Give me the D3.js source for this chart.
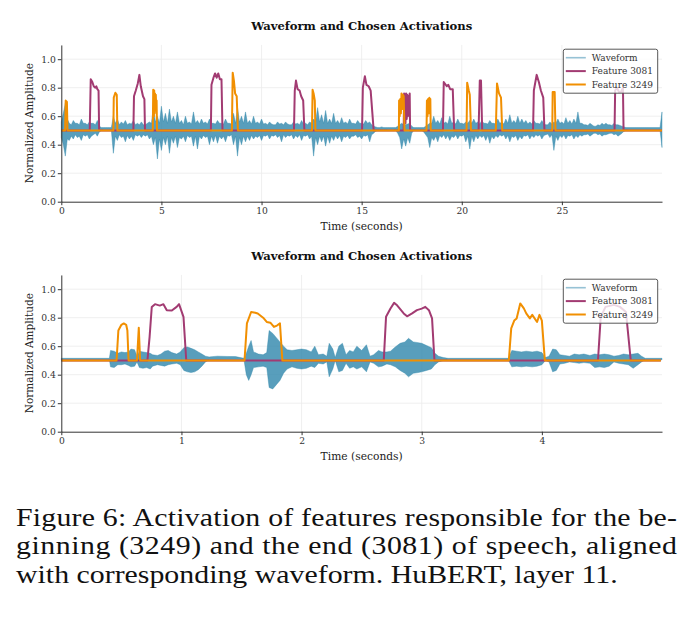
<!DOCTYPE html>
<html>
<head>
<meta charset="utf-8">
<script src="https://cdn.jsdelivr.net/npm/d3@7"></script>
<style>
  body { margin: 0; background: #fff; }
  text { font-family: "DejaVu Serif", serif; }
</style>
</head>
<body>
<svg id="fig" width="692" height="620"></svg>
<script>
// ---- data ----
var titleText = "Waveform and Chosen Activations";
var legendLabels = ["Waveform", "Feature 3081", "Feature 3249"];
var yTicks = [0.0, 0.2, 0.4, 0.6, 0.8, 1.0];
var xTicksTop = [0, 5, 10, 15, 20, 25];
var xTicksBot = [0, 1, 2, 3, 4];

// top panel: waveform envelope sampled every 0.1 s (upper / lower), one row = 2 s
var waveTopStep = 0.1;
var waveTopHi = [
  .56,.62,.69,.58,.55,.54,.57,.55,.55,.54,.58,.55,.55,.54,.56,.55,.55,.54,.57,.53,
  .52,.52,.52,.52,.52,.52,.60,.55,.58,.54,.56,.545,.57,.54,.55,.545,.57,.54,.55,.54,
  .56,.54,.54,.55,.56,.55,.66,.56,.60,.55,.67,.56,.62,.55,.65,.56,.60,.55,.63,.55,
  .57,.54,.60,.55,.56,.545,.63,.55,.57,.545,.58,.55,.56,.545,.58,.55,.55,.545,.57,.55,
  .55,.545,.58,.55,.55,.545,.62,.55,.66,.56,.60,.55,.63,.55,.57,.545,.60,.55,.56,.545,
  .58,.545,.55,.54,.56,.545,.54,.54,.56,.545,.55,.54,.56,.545,.54,.54,.56,.545,.55,.54,
  .57,.545,.55,.54,.56,.55,.58,.56,.66,.56,.61,.55,.64,.55,.58,.55,.62,.55,.57,.545,
  .59,.55,.56,.545,.58,.55,.55,.545,.57,.55,.55,.545,.57,.55,.56,.54,.53,.525,.52,.52,
  .525,.52,.52,.52,.52,.52,.52,.52,.53,.54,.55,.54,.54,.545,.55,.53,.52,.52,.52,.52,
  .52,.52,.53,.54,.55,.55,.60,.55,.57,.545,.59,.55,.56,.545,.60,.55,.56,.545,.58,.55,
  .55,.545,.56,.55,.57,.55,.58,.55,.56,.545,.57,.55,.55,.545,.57,.55,.55,.545,.58,.55,
  .56,.545,.58,.55,.61,.55,.57,.55,.60,.55,.58,.55,.57,.545,.56,.545,.57,.55,.55,.545,
  .57,.545,.54,.54,.56,.545,.56,.55,.58,.55,.56,.545,.59,.55,.57,.545,.58,.55,.63,.55,
  .55,.54,.54,.535,.55,.54,.53,.53,.54,.535,.55,.54,.55,.54,.54,.535,.55,.54,.54,.535,
  .53,.525,.52,.52,.52,.52,.52,.52,.52,.52,.52,.52,.52,.52,.52,.52,.52,.52,.52,.52,
  .63];
var waveTopLo = [
  .45,.40,.32,.44,.43,.46,.44,.47,.45,.46,.43,.47,.46,.47,.44,.46,.47,.48,.46,.49,
  .50,.505,.505,.505,.505,.50,.34,.46,.43,.47,.45,.46,.42,.465,.44,.46,.43,.47,.46,.47,
  .45,.47,.46,.47,.44,.46,.40,.45,.30,.44,.36,.45,.40,.46,.34,.45,.41,.46,.38,.45,
  .44,.46,.42,.465,.45,.46,.39,.46,.37,.46,.44,.465,.45,.46,.40,.46,.42,.465,.41,.46,
  .44,.46,.42,.465,.46,.47,.40,.46,.32,.45,.40,.46,.42,.46,.43,.465,.44,.46,.45,.465,
  .43,.465,.46,.47,.44,.465,.46,.47,.45,.465,.42,.47,.45,.465,.46,.47,.44,.465,.45,.47,
  .43,.465,.46,.47,.44,.46,.32,.45,.40,.46,.42,.46,.39,.46,.41,.46,.43,.465,.44,.465,
  .42,.46,.45,.465,.44,.46,.46,.47,.45,.46,.44,.465,.46,.47,.42,.47,.48,.495,.50,.505,
  .50,.505,.50,.505,.505,.505,.505,.50,.48,.45,.37,.44,.39,.45,.41,.48,.50,.505,.505,.505,
  .50,.49,.47,.45,.38,.45,.43,.46,.42,.465,.45,.47,.44,.465,.43,.46,.45,.47,.44,.465,
  .46,.47,.42,.46,.37,.46,.42,.465,.44,.465,.45,.465,.43,.465,.41,.46,.44,.465,.45,.47,
  .46,.47,.44,.465,.42,.46,.45,.465,.43,.46,.44,.465,.46,.47,.44,.465,.45,.47,.46,.47,
  .44,.465,.47,.475,.45,.47,.36,.46,.43,.465,.45,.47,.44,.465,.46,.47,.44,.465,.45,.47,
  .46,.47,.47,.475,.46,.47,.48,.48,.47,.475,.46,.47,.47,.475,.48,.48,.47,.475,.46,.47,
  .48,.495,.50,.505,.505,.505,.505,.505,.505,.505,.505,.505,.505,.505,.505,.505,.505,.505,.505,.505,
  .38];

// top panel activations [time, value]
var f3081Top = [
  [0,.5],[1.42,.5],[1.47,.86],[1.55,.84],[1.62,.81],[1.7,.80],[1.75,.81],[1.8,.79],[1.86,.78],[1.89,.5],
  [3.6,.5],[3.63,.74],[3.72,.78],[3.82,.83],[3.9,.89],[3.97,.81],[4.08,.74],[4.15,.72],[4.18,.5],
  [7.47,.5],[7.5,.82],[7.6,.87],[7.68,.9],[7.76,.87],[7.84,.9],[7.92,.86],[8.0,.86],[8.05,.5],
  [11.62,.5],[11.66,.78],[11.72,.85],[11.8,.79],[11.9,.78],[11.98,.74],[12.08,.71],[12.14,.5],
  [15.02,.5],[15.06,.80],[15.16,.88],[15.24,.82],[15.35,.81],[15.45,.78],[15.6,.5],
  [17.1,.5],[17.12,.76],[17.15,.6],[17.17,.74],[17.19,.55],[17.22,.76],[17.25,.58],[17.28,.75],
  [17.31,.6],[17.34,.74],[17.37,.62],[17.4,.76],[17.42,.5],
  [19.06,.5],[19.1,.84],[19.25,.81],[19.33,.82],[19.42,.79],[19.55,.79],[19.62,.5],
  [20.84,.5],[20.9,.85],[20.96,.85],[21.02,.5],
  [23.56,.5],[23.6,.78],[23.74,.89],[23.85,.84],[23.95,.78],[24.07,.73],[24.13,.5],
  [27.63,.5],[27.66,.78],[27.75,.80],[27.85,.77],[27.95,.77],[28.05,.80],[28.08,.5],
  [30,.5]];
var f3249Top = [
  [0,.5],[0.19,.5],[0.22,.71],[0.28,.70],[0.31,.5],
  [2.6,.5],[2.62,.73],[2.7,.765],[2.77,.75],[2.8,.5],
  [4.57,.5],[4.59,.785],[4.62,.6],[4.64,.78],[4.66,.62],[4.68,.76],[4.7,.64],[4.72,.75],[4.74,.66],[4.76,.71],[4.78,.5],
  [8.52,.5],[8.56,.905],[8.62,.85],[8.68,.76],[8.76,.74],[8.82,.5],
  [12.52,.5],[12.55,.785],[12.6,.76],[12.66,.71],[12.69,.5],
  [16.86,.5],[16.87,.71],[16.9,.6],[16.93,.72],[16.96,.62],[16.99,.76],[17.02,.65],[17.06,.75],[17.1,.74],[17.14,.5],
  [18.24,.5],[18.26,.71],[18.29,.6],[18.32,.72],[18.35,.62],[18.38,.73],[18.41,.65],[18.43,.72],[18.45,.5],
  [20.24,.5],[20.27,.835],[20.35,.78],[20.4,.75],[20.46,.5],
  [21.7,.5],[21.76,.83],[21.86,.76],[21.96,.73],[22.02,.5],
  [24.52,.5],[24.54,.77],[24.64,.77],[24.68,.5],
  [30,.5]];

// bottom panel: waveform envelope at irregular times
var waveBotT = [0,0.40,0.41,0.44,0.47,0.50,0.53,0.56,0.58,0.61,0.63,0.65,0.68,0.71,0.74,0.76,0.80,0.83,0.86,0.89,
  0.92,0.96,0.99,1.02,1.05,1.08,1.11,1.14,1.17,1.20,1.23,1.30,1.38,1.45,1.52,1.54,1.56,1.58,1.60,1.64,
  1.68,1.71,1.73,1.76,1.79,1.82,1.85,1.88,1.92,1.96,2.00,2.04,2.08,2.11,2.14,2.18,2.21,2.23,2.26,2.28,
  2.31,2.34,2.37,2.40,2.43,2.46,2.50,2.54,2.57,2.60,2.64,2.67,2.71,2.74,2.78,2.82,2.86,2.89,2.93,2.97,
  3.00,3.04,3.08,3.11,3.14,3.18,3.22,3.72,3.75,3.79,3.83,3.87,3.92,3.96,4.00,4.03,4.06,4.09,4.12,4.15,
  4.19,4.23,4.27,4.31,4.35,4.40,4.44,4.48,4.52,4.56,4.60,4.64,4.68,4.72,4.76,4.80,4.83,4.86,5.00];
var waveBotHi = [.515,.515,.57,.565,.55,.56,.555,.56,.58,.575,.53,.565,.56,.555,.55,.54,.535,.545,.565,.57,
  .555,.545,.56,.59,.595,.585,.575,.56,.545,.53,.525,.53,.528,.527,.515,.55,.60,.64,.56,.545,
  .54,.555,.71,.69,.66,.63,.60,.575,.57,.575,.58,.575,.56,.60,.54,.545,.53,.62,.58,.52,
  .60,.62,.54,.57,.56,.60,.57,.61,.53,.54,.57,.56,.56,.565,.595,.62,.63,.655,.63,.625,
  .62,.605,.59,.55,.53,.52,.515,.515,.57,.565,.56,.565,.56,.565,.555,.52,.53,.58,.575,.54,
  .535,.53,.545,.54,.545,.535,.545,.54,.545,.54,.53,.535,.545,.54,.545,.55,.53,.515,.515];
var waveBotLo = [.505,.505,.455,.45,.47,.47,.475,.465,.455,.46,.49,.45,.445,.45,.44,.46,.47,.465,.46,.47,
  .475,.48,.47,.43,.42,.415,.42,.435,.46,.49,.505,.505,.507,.507,.507,.40,.36,.40,.45,.455,
  .46,.45,.31,.30,.33,.36,.41,.44,.455,.445,.44,.445,.46,.45,.48,.475,.49,.385,.44,.50,
  .42,.43,.48,.445,.455,.44,.455,.42,.49,.48,.455,.46,.475,.47,.455,.43,.41,.385,.41,.415,
  .42,.43,.44,.47,.49,.50,.505,.505,.455,.46,.455,.46,.455,.46,.47,.50,.49,.42,.43,.475,
  .48,.49,.485,.48,.485,.48,.45,.455,.45,.46,.49,.48,.475,.47,.445,.47,.49,.505,.505];

var f3081Bot = [
  [0,.5],[0.717,.5],[0.735,.665],[0.753,.875],[0.78,.895],[0.82,.885],[0.85,.895],[0.878,.853],[0.92,.85],
  [0.96,.876],[0.98,.895],[1.017,.806],[1.04,.5],
  [2.684,.5],[2.703,.806],[2.74,.864],[2.77,.904],[2.795,.887],[2.85,.83],[2.878,.81],[2.92,.83],[2.96,.853],
  [3.0,.864],[3.03,.876],[3.06,.853],[3.086,.795],[3.106,.5],
  [4.467,.5],[4.49,.806],[4.53,.876],[4.6,.89],[4.65,.876],[4.7,.84],[4.74,.5],
  [4.99,.5]];
var f3249Bot = [
  [0,.5],[0.46,.5],[0.475,.71],[0.5,.75],[0.52,.76],[0.54,.75],[0.55,.71],[0.56,.5],[0.63,.5],[0.645,.73],[0.656,.5],
  [1.525,.5],[1.545,.76],[1.58,.84],[1.615,.835],[1.635,.83],[1.68,.80],[1.71,.77],[1.74,.765],[1.77,.735],
  [1.795,.745],[1.82,.76],[1.84,.5],
  [3.725,.5],[3.745,.725],[3.77,.78],[3.79,.795],[3.82,.90],[3.85,.865],[3.87,.83],[3.9,.795],[3.92,.82],
  [3.96,.77],[3.98,.82],[4.0,.78],[4.025,.5],
  [4.99,.5]];

var captionLines = [
  "Figure 6: Activation of features responsible for the be-",
  "ginning (3249) and the end (3081) of speech, aligned",
  "with corresponding waveform. HuBERT, layer 11."
];

// ---- styles ----
var cWave = "#2E86AB", c3081 = "#A23B72", c3249 = "#F18F01";
var serif = "DejaVu Serif";

var svg = d3.select("#fig");
svg.append("rect").attr("width", 692).attr("height", 620).attr("fill", "#fff");

function drawPanel(p) {
  var x = d3.scaleLinear().domain(p.xDomain).range([61.3, 662]);
  var y = d3.scaleLinear().domain([0, 1.1]).range([p.bottom, p.bottom - 1.1 * 142.5]);
  var g = svg.append("g");

  // grid
  g.selectAll(".gy").data(yTicks.slice(1)).enter().append("line")
    .attr("x1", x.range()[0]).attr("x2", x.range()[1])
    .attr("y1", function(d) { return y(d); }).attr("y2", function(d) { return y(d); })
    .attr("stroke", "#ebebeb").attr("stroke-width", 0.8);
  g.selectAll(".gx").data(p.xTicks.slice(1)).enter().append("line")
    .attr("x1", function(d) { return x(d); }).attr("x2", function(d) { return x(d); })
    .attr("y1", y(0)).attr("y2", y(1.1))
    .attr("stroke", "#ebebeb").attr("stroke-width", 0.8);

  // waveform envelope
  var wave = p.waveHi.map(function(h, i) { return { t: p.waveT[i], hi: h, lo: p.waveLo[i] }; });
  var area = d3.area()
    .x(function(d) { return x(d.t); })
    .y0(function(d) { return y(d.lo); })
    .y1(function(d) { return y(d.hi); });
  g.append("path").datum(wave).attr("d", area)
    .attr("fill", cWave).attr("fill-opacity", 0.8)
    .attr("stroke", cWave).attr("stroke-opacity", 0.8).attr("stroke-width", 0.5);

  var line = d3.line()
    .x(function(d) { return x(d[0]); })
    .y(function(d) { return y(d[1]); });
  g.append("path").datum(p.f3081).attr("d", line)
    .attr("fill", "none").attr("stroke", c3081).attr("stroke-width", 2).attr("stroke-linejoin", "round");
  g.append("path").datum(p.f3249).attr("d", line)
    .attr("fill", "none").attr("stroke", c3249).attr("stroke-width", 2).attr("stroke-linejoin", "round");

  // axes
  var ax = g.append("g").attr("transform", "translate(0," + y(0) + ")")
    .call(d3.axisBottom(x).tickValues(p.xTicks).tickFormat(d3.format("d")).tickSize(3.5).tickPadding(2).tickSizeOuter(0));
  var ay = g.append("g").attr("transform", "translate(" + x.range()[0] + ",0)")
    .call(d3.axisLeft(y).tickValues(yTicks).tickFormat(d3.format(".1f")).tickSize(3.5).tickPadding(2).tickSizeOuter(0));
  [ax, ay].forEach(function(a) {
    a.attr("font-family", serif);
    a.select(".domain").attr("stroke", "#333").attr("stroke-width", 1);
    a.selectAll(".tick line").attr("stroke", "#333");
    a.selectAll(".tick text").attr("fill", "#333").style("font-family", serif).style("font-size", "9.2px");
  });

  // titles
  g.append("text").attr("x", 361.7).attr("y", p.bottom - 172)
    .attr("text-anchor", "middle").attr("font-weight", "bold").attr("font-size", 11.6).attr("fill", "#111")
    .style("font-family", serif).text(titleText);
  g.append("text").attr("x", 361.7).attr("y", p.bottom + 28)
    .attr("text-anchor", "middle").attr("font-size", 10.7).attr("fill", "#222")
    .style("font-family", serif).text("Time (seconds)");
  g.append("text").attr("transform", "translate(33," + (p.bottom - 78.5) + ") rotate(-90)")
    .attr("text-anchor", "middle").attr("font-size", 10.5).attr("fill", "#222")
    .style("font-family", serif).text("Normalized Amplitude");

  // legend
  var lg = g.append("g").attr("transform", "translate(563.3," + (p.bottom - 152.5) + ")");
  lg.append("rect").attr("width", 94.4).attr("height", 44).attr("rx", 2)
    .attr("fill", "#fff").attr("fill-opacity", 0.8).attr("stroke", "#444").attr("stroke-width", 0.9);
  var cols = [cWave, c3081, c3249], ops = [0.5, 1, 1];
  legendLabels.forEach(function(lab, i) {
    var yy = 8.5 + i * 13.4;
    lg.append("line").attr("x1", 2.5).attr("x2", 22.5).attr("y1", yy).attr("y2", yy)
      .attr("stroke", cols[i]).attr("stroke-opacity", ops[i]).attr("stroke-width", i === 0 ? 1.6 : 2);
    lg.append("text").attr("x", 28.5).attr("y", yy + 3.3).attr("font-size", 9).attr("fill", "#333")
      .style("font-family", serif).text(lab);
  });
}

drawPanel({
  bottom: 201.7, xDomain: [0, 30], xTicks: xTicksTop,
  waveT: waveTopHi.map(function(d, i) { return i * waveTopStep; }),
  waveHi: waveTopHi, waveLo: waveTopLo, f3081: f3081Top, f3249: f3249Top
});
drawPanel({
  bottom: 431.7, xDomain: [0, 5], xTicks: xTicksBot,
  waveT: waveBotT, waveHi: waveBotHi, waveLo: waveBotLo, f3081: f3081Bot, f3249: f3249Bot
});

// caption (Times-like, set wide as in the scanned figure)
var cap = svg.append("g");
var capTexts = captionLines.map(function(s, i) {
  return cap.append("text").attr("x", 0).attr("y", 0)
    .style("font-family", "'Times New Roman', 'Liberation Serif', serif")
    .attr("font-size", 26).attr("fill", "#111").text(s);
});
var sx = 602 / capTexts[2].node().getComputedTextLength();
capTexts.forEach(function(t, i) {
  t.attr("transform", "translate(16," + (526 + i * 28.3) + ") scale(" + sx + ",1)");
  if (i < 2) t.attr("textLength", 661 / sx).attr("lengthAdjust", "spacing");
});
</script>
</body>
</html>
